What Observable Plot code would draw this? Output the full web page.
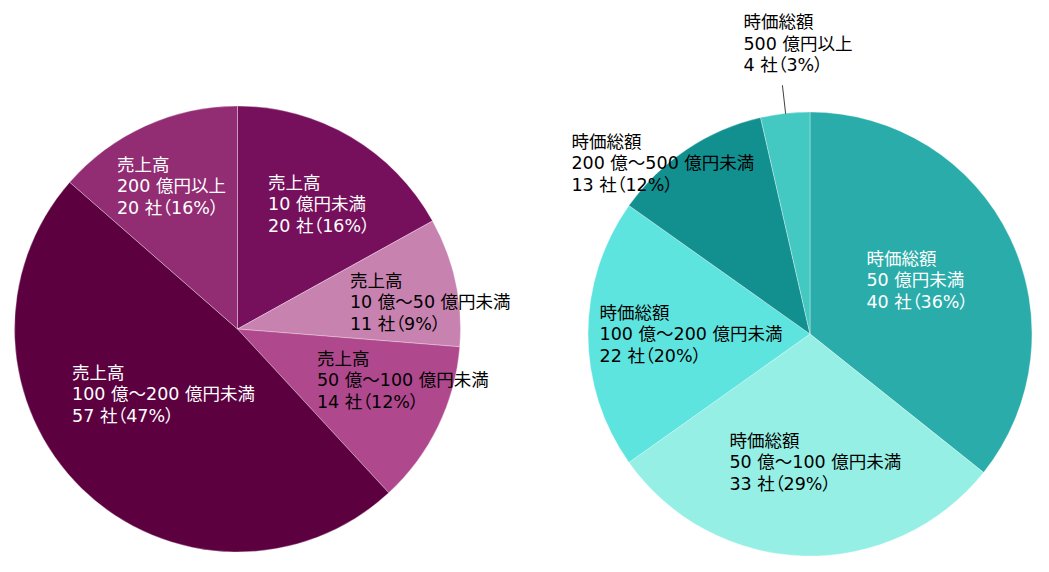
<!DOCTYPE html>
<html><head><meta charset="utf-8">
<script src="https://cdn.jsdelivr.net/npm/d3@7"></script>
<script src="https://cdn.jsdelivr.net/npm/@observablehq/plot@0.6"></script>
<style>
html,body{margin:0;padding:0;background:#fff;}
svg{display:block;}
svg text{font-feature-settings:"palt";}
</style>
</head><body>
<div id="chart"></div>
<script>
// ---- data ----
const leftPrefix = "売上高";
const leftCats = ["10 億円未満", "10 億～50 億円未満", "50 億～100 億円未満", "100 億～200 億円未満", "200 億円以上"];
const leftSliceValues = [20, 11, 14, 57, 16];   // slice sizes as drawn
const leftCounts = [20, 11, 14, 57, 20];        // counts as labelled
const leftPct = ["16%", "9%", "12%", "47%", "16%"];

const rightPrefix = "時価総額";
const rightCats = ["50 億円未満", "50 億～100 億円未満", "100 億～200 億円未満", "200 億～500 億円未満", "500 億円以上"];
const rightSliceValues = [40, 33, 22, 13, 4];
const rightCounts = [40, 33, 22, 13, 4];
const rightPct = ["36%", "29%", "20%", "12%", "3%"];

// ---- style / layout ----
const leftColors = ["#76105c", "#c882b0", "#b0488e", "#5c0040", "#922c73"];
const rightColors = ["#29acaa", "#95efe5", "#5ee4de", "#128f8f", "#43c8c2"];
const leftTextColors = ["#fff", "#000", "#000", "#fff", "#fff"];
const rightTextColors = ["#fff", "#000", "#000", "#000", "#000"];
const leftPie = {cx: 237.5, cy: 329, r: 223};
const rightPie = {cx: 810, cy: 334, r: 222};
// label anchor (left edge, vertical middle) as fraction of radius from centre
const leftLabelPos = [[0.135, -0.565], [0.502, -0.126], [0.354, 0.224], [-0.744, 0.287], [-0.543, -0.646]];
const rightLabelPos = [[0.252, -0.248], [-0.365, 0.572], [-0.950, -0.005], [-1.077, -0.775], [-0.302, -1.315]];
const rightLeaders = [4];
const FONT = "'DejaVu Sans', 'Noto Sans CJK JP', sans-serif";

const W = 1049, H = 572;

function buildPie(prefix, cats, values, counts, pct, colors, textColors, pie, labelPos, leaders) {
  const color = Plot.scale({color: {type: "ordinal", domain: cats, range: colors}});
  const arcs = d3.pie().sort(null).value(d => d)(values);
  const rows = cats.map((c, i) => ({
    cat: c,
    label: `${prefix}\n${c}\n${counts[i]} 社（${pct[i]}）`,
    lx: pie.cx + labelPos[i][0] * pie.r,
    ly: pie.cy + labelPos[i][1] * pie.r,
    tc: textColors[i],
    mid: (arcs[i].startAngle + arcs[i].endAngle) / 2
  }));
  const slices = (index, scales) => {
    const sx = scales.x || (v => v), sy = scales.y || (v => v);
    const k = Math.abs(sx(pie.r) - sx(0));
    const arc = d3.arc().innerRadius(0).outerRadius(k);
    const g = d3.create("svg:g").attr("transform", `translate(${sx(pie.cx)},${sy(pie.cy)})`);
    g.selectAll("path").data(arcs).join("path")
      .attr("d", arc)
      .attr("fill", (d, i) => color.apply(cats[i]))
      .attr("stroke", "#ffffff")
      .attr("stroke-opacity", 0.55)
      .attr("stroke-width", 0.6);
    return g.node();
  };
  const leaderRows = leaders.map(i => rows[i]);
  return [
    slices,
    Plot.link(leaderRows, {
      x1: d => pie.cx + Math.sin(d.mid) * pie.r,
      y1: d => pie.cy - Math.cos(d.mid) * pie.r,
      x2: d => pie.cx + Math.sin(d.mid) * pie.r * 1.13,
      y2: d => pie.cy - Math.cos(d.mid) * pie.r * 1.13,
      stroke: "#404040", strokeWidth: 1
    }),
    Plot.text(rows, {
      x: "lx", y: "ly", text: "label", fill: d => d.tc,
      textAnchor: "start", lineAnchor: "middle", lineHeight: 1.24,
      fontSize: 17.5, fontFamily: FONT
    })
  ];
}

const chart = Plot.plot({
  width: W, height: H,
  margin: 0,
  style: {background: "#fff", fontFamily: FONT},
  x: {domain: [0, W], range: [0, W], axis: null},
  y: {domain: [0, H], range: [0, H], axis: null},
  marks: [
    ...buildPie(leftPrefix, leftCats, leftSliceValues, leftCounts, leftPct, leftColors, leftTextColors, leftPie, leftLabelPos, []),
    ...buildPie(rightPrefix, rightCats, rightSliceValues, rightCounts, rightPct, rightColors, rightTextColors, rightPie, rightLabelPos, rightLeaders)
  ]
});
document.getElementById("chart").appendChild(chart);
</script>
</body></html>
